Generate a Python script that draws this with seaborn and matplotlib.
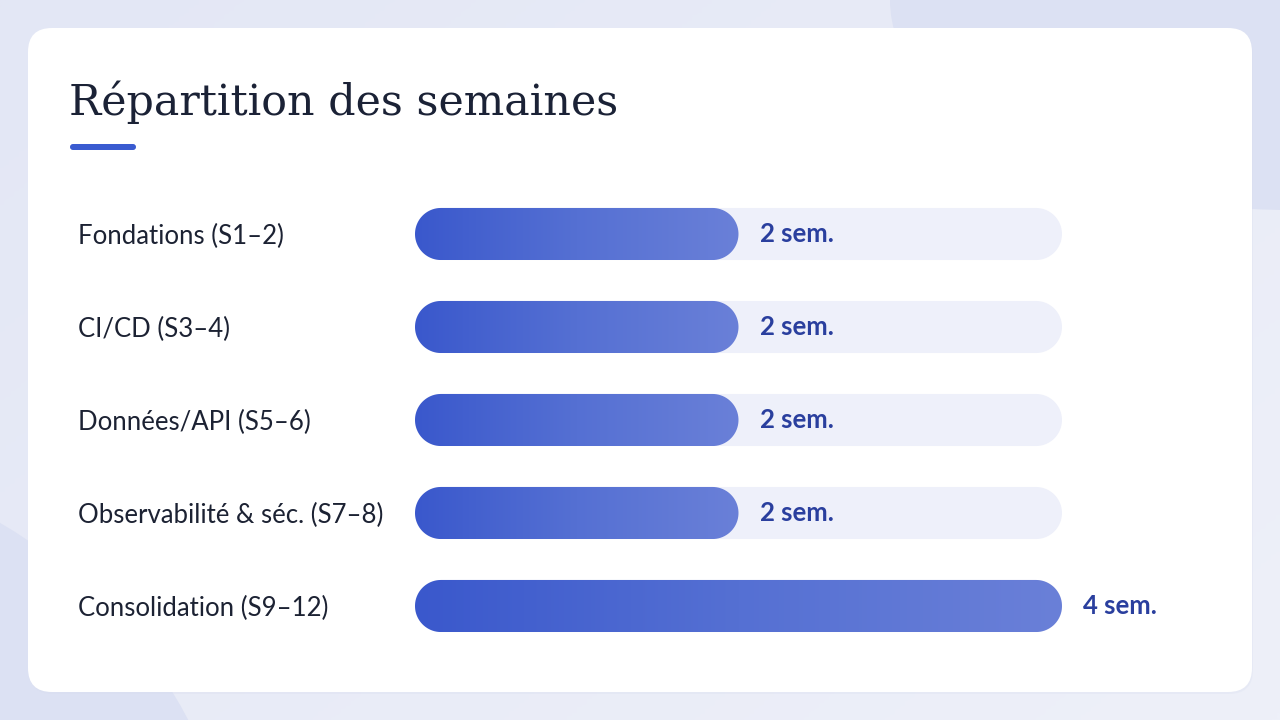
import numpy as np
import pandas as pd
import matplotlib
matplotlib.use("Agg")
import matplotlib.pyplot as plt
import seaborn as sns
from matplotlib.colors import LinearSegmentedColormap
from matplotlib.patches import FancyBboxPatch, Ellipse, Circle, Polygon

# --- data -------------------------------------------------------------
phases = [
    "Fondations (S1–2)",
    "CI/CD (S3–4)",
    "Données/API (S5–6)",
    "Observabilité & séc. (S7–8)",
    "Consolidation (S9–12)",
]
weeks = [2, 2, 2, 2, 4]
value_labels = [f"{w} sem." for w in weeks]
title = "Répartition des semaines"

df = pd.DataFrame({"phase": phases, "weeks": weeks})

# --- style --------------------------------------------------------------
sns.set_theme(style="white")
plt.rcParams["font.family"] = ["Lato", "DejaVu Sans"]

W, H = 1280, 720
fig = plt.figure(figsize=(W / 100, H / 100), dpi=100)

# background layer in pixel coordinates
bg = fig.add_axes([0, 0, 1, 1])
bg.set_xlim(0, W)
bg.set_ylim(H, 0)
bg.axis("off")
grad_bg = np.linspace(0, 1, 256)[None, :] * 0.6 + np.linspace(0, 1, 256)[:, None] * 0.4
bg_cmap = LinearSegmentedColormap.from_list("bg", ["#E3E7F5", "#EEF0F9"])
bg.imshow(grad_bg, extent=[0, W, H, 0], cmap=bg_cmap, aspect="auto", zorder=0)
bg.add_patch(Ellipse((1290, 0), 800, 420, color="#DCE1F3", zorder=1, lw=0))
bg.add_patch(Circle((-250, 950), 495, color="#DCE1F3", zorder=1, lw=0))
# card shadow + card
bg.add_patch(FancyBboxPatch((29, 30), 1224, 664, boxstyle="round,pad=0,rounding_size=24",
                            fc="#D5DBEE", ec="none", alpha=0.25, zorder=2))
bg.add_patch(FancyBboxPatch((28, 28), 1224, 664, boxstyle="round,pad=0,rounding_size=24",
                            fc="white", ec="none", zorder=3))
bg.text(69, 115, title, fontsize=30.8, color="#1B2236", family=["DejaVu Serif"],
        va="baseline", ha="left", zorder=4)
bg.add_patch(FancyBboxPatch((70, 144), 66, 6, boxstyle="round,pad=0,rounding_size=3",
                            fc="#3A5BD0", ec="none", zorder=4))

# chart axes: x 0..4 -> 415..1062 px, rows 93 px apart centred at 234..606 px
left, right = 415, 1062
top, bottom = 234 - 46.5, 606 + 46.5
ax = fig.add_axes([left / W, (H - bottom) / H, (right - left) / W, (bottom - top) / H])
ax.patch.set_alpha(0)

sns.barplot(data=df, x="weeks", y="phase", orient="h", width=0.56, ax=ax,
            color="#3A58CC", edgecolor="none")

xmax = max(weeks)
px_x = (right - left) / xmax
rx = 26 / px_x  # half the bar height, in x units


def pill(x0, y0, w, h, **kw):
    ry = h / 2
    t = np.linspace(-np.pi / 2, np.pi / 2, 40)
    cy = y0 + ry
    right_arc = np.column_stack([x0 + w - rx + rx * np.cos(t), cy + ry * np.sin(t)])
    left_arc = np.column_stack([x0 + rx - rx * np.cos(t), cy - ry * np.sin(t)])
    return Polygon(np.vstack([right_arc, left_arc]), closed=True, **kw)


bar_cmap = LinearSegmentedColormap.from_list("bar", ["#3A58CC", "#5570D3", "#6A80D8"])
grad = np.linspace(0, 1, 256)[None, :]

for bar in ax.patches[:len(phases)]:
    x0, y0, w, h = bar.get_x(), bar.get_y(), bar.get_width(), bar.get_height()
    bar.set_visible(False)
    ax.add_patch(pill(0, y0, xmax, h, fc="#EEF0FA", ec="none", zorder=1))
    shape = pill(x0, y0, w, h, fc="none", ec="none", zorder=2)
    ax.add_patch(shape)
    im = ax.imshow(grad, extent=[x0, x0 + w, y0 + h, y0], cmap=bar_cmap,
                   aspect="auto", zorder=2)
    im.set_clip_path(shape)

ax.set_xlim(0, xmax)
ax.set_ylim(len(phases) - 0.5, -0.5)

texts = ax.bar_label(ax.containers[0], labels=value_labels, padding=21 * 0.72,
                     fontsize=18.5, fontweight="bold", color="#2A3F9E", clip_on=False)
for t in texts:
    t.set_y(t.get_position()[1] + 0.03)

ax.set_xlabel("")
ax.set_ylabel("")
ax.set_xticks([])
ax.tick_params(axis="y", length=0, pad=(left - 78) * 0.72, labelsize=18.5, labelcolor="#1C2233")
for lab in ax.get_yticklabels():
    lab.set_horizontalalignment("left")
sns.despine(ax=ax, left=True, bottom=True)

fig.savefig("out.png", dpi=100)
